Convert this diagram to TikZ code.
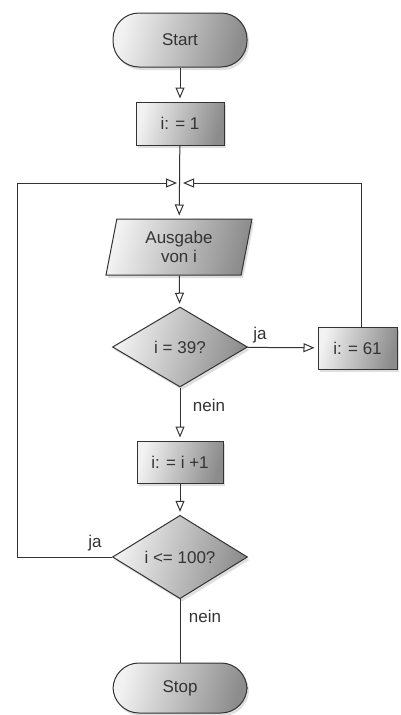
\documentclass[tikz,border=0pt]{standalone}
\usepackage{fontspec}
\setmainfont{Liberation Sans}
\usetikzlibrary{arrows.meta,shapes.geometric,shadows}
\begin{document}
\begin{tikzpicture}[x=1pt,y=-1pt,
  font=\fontsize{17}{19}\selectfont,
  base/.style={draw=black!80, line width=1pt, text=black!80, inner sep=0pt,
    left color=black!5, right color=black!45, shading angle=75,
    drop shadow={shadow xshift=2pt,shadow yshift=-3pt,opacity=0.25}},
  term/.style={base, rectangle, rounded corners=26pt, minimum width=134pt},
  proc/.style={base, rectangle, minimum height=42pt},
  io/.style={base, trapezium, trapezium left angle=71, trapezium right angle=109,
    trapezium stretches body, minimum width=146pt, minimum height=56pt, align=center},
  decision/.style={base, diamond, minimum width=135pt, minimum height=80pt},
  arr/.style={-{Triangle[open,length=11pt,width=9pt]}, shorten >=3pt},
  line/.style={draw=black!80, line width=1pt},
  lbl/.style={text=black!80}
]
\fill[white] (0,0) rectangle (400,715);
\useasboundingbox (0,0) rectangle (400,715);

\node[term, minimum height=54pt] (start) at (180,40) {Start};
\node[proc, minimum width=88pt, minimum height=43pt] (init) at (180,123.5) {i: = 1};
\coordinate (J) at (180,183);
\node[io] (out) at (179,247) {Ausgabe\\von i};
\node[decision] (d1) at (180,347) {i = 39?};
\node[proc, minimum width=79pt] (b61) at (357.5,348) {i: = 61};
\node[proc, minimum width=86pt] (inc) at (180,462) {i: = i +1};
\node[decision] (d2) at (180,557) {i <= 100?};
\node[term, minimum height=50pt] (stop) at (180,688) {Stop};

\coordinate (L) at (17,183);
\coordinate (R) at (361,183);

\draw[line, arr] (start) -- (init);
\draw[line, arr] (init) -- (out);
\draw[line, arr] (out) -- (d1);
\draw[line, arr] (d1) -- (b61);
\draw[line, arr] (d1) -- (inc);
\draw[line, arr] (inc) -- (d2);
\draw[line] (d2) -- (stop);
\draw[line, arr] (d2.west) -| (L) -- (J);
\draw[line, arr] (b61.north -| R) -- (R) -- (J);

\node[lbl] (ja1) at (260,335) {ja};
\node[lbl] (nein1) at (209,405) {nein};
\node[lbl] (ja2) at (95,543) {ja};
\node[lbl] (nein2) at (205,616) {nein};
\end{tikzpicture}
\end{document}
